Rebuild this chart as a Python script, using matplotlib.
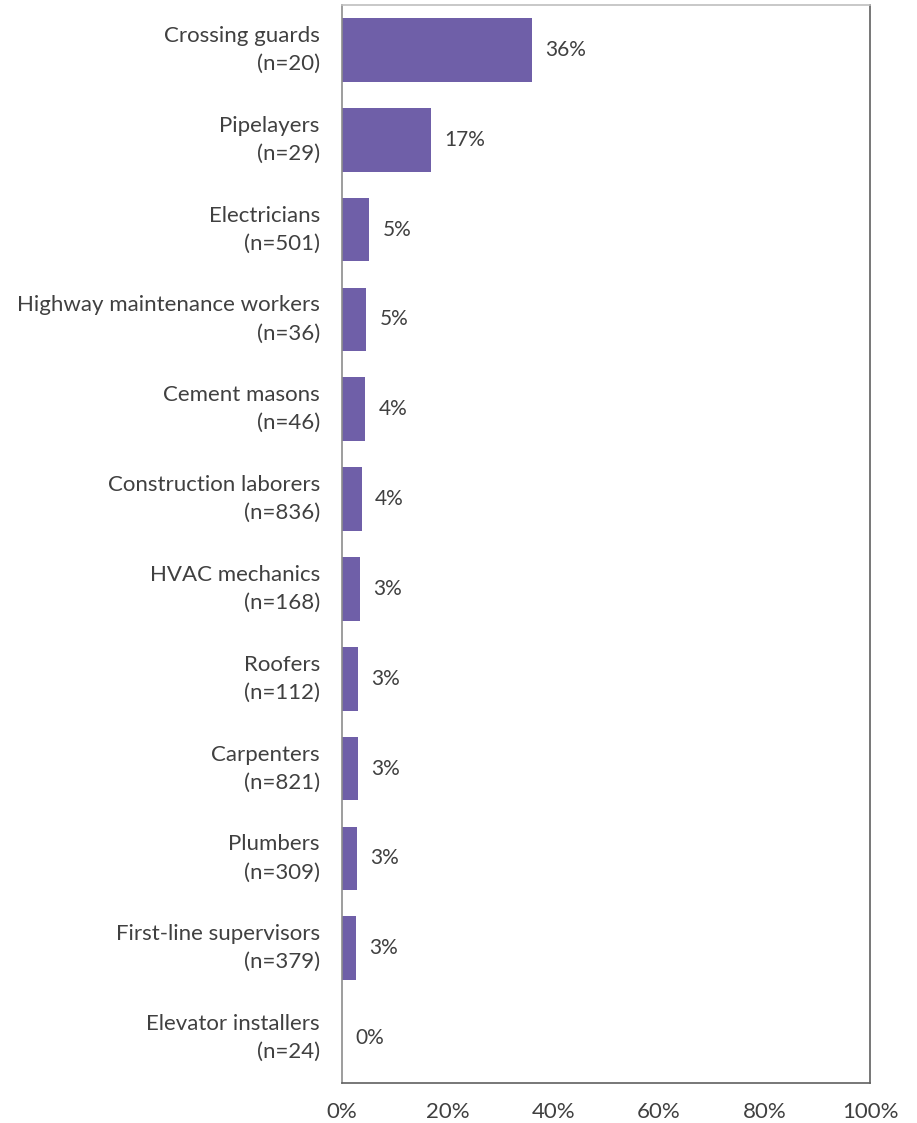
import matplotlib.pyplot as plt
from matplotlib.ticker import FuncFormatter

occupations = ['Crossing guards', 'Pipelayers', 'Electricians',
               'Highway maintenance workers', 'Cement masons',
               'Construction laborers', 'HVAC mechanics', 'Roofers',
               'Carpenters', 'Plumbers', 'First-line supervisors',
               'Elevator installers']
sample_sizes = [20, 29, 501, 36, 46, 836, 168, 112, 821, 309, 379, 24]
percent = [36.0, 16.8, 5.2, 4.6, 4.4, 3.7, 3.4, 3.1, 3.0, 2.8, 2.6, 0.0]
x_ticks = [0, 20, 40, 60, 80, 100]

bar_color = '#6F5FA8'
text_color = '#404040'

plt.rcParams['font.family'] = ['Lato', 'DejaVu Sans']

fig = plt.figure(figsize=(9.17, 11.23), dpi=100)
ax = fig.add_axes([342 / 917, 1 - 1083 / 1123, 528 / 917, 1078 / 1123])

ypos = list(range(len(occupations)))
ax.barh(ypos, percent, height=0.71, color=bar_color, zorder=2)

for y, v in zip(ypos, percent):
    ax.text(v + 2.5, y, f'{v:.0f}%', va='center', ha='left',
            fontsize=15, color=text_color)

labels = [f'{name}\n(n={n})' for name, n in zip(occupations, sample_sizes)]
ax.set_yticks(ypos)
ax.set_yticklabels(labels, fontsize=16, color=text_color,
                   linespacing=1.5)
for t in ax.get_yticklabels():
    t.set_va('center')
ax.set_ylim(len(occupations) - 0.5, -0.5)

ax.set_xlim(0, 100)
ax.set_xticks(x_ticks)
ax.xaxis.set_major_formatter(FuncFormatter(lambda v, p: f'{v:.0f}%'))
ax.tick_params(axis='x', length=0, pad=14, labelsize=16,
               labelcolor=text_color)
ax.tick_params(axis='y', length=0, pad=16)

ax.spines['top'].set_color('#BFBFBF')
ax.spines['right'].set_color('#606060')
ax.spines['bottom'].set_color('#606060')
ax.spines['left'].set_color('#8C8C8C')
for s in ax.spines.values():
    s.set_linewidth(1.2)

fig.savefig('out.png', dpi=100)
